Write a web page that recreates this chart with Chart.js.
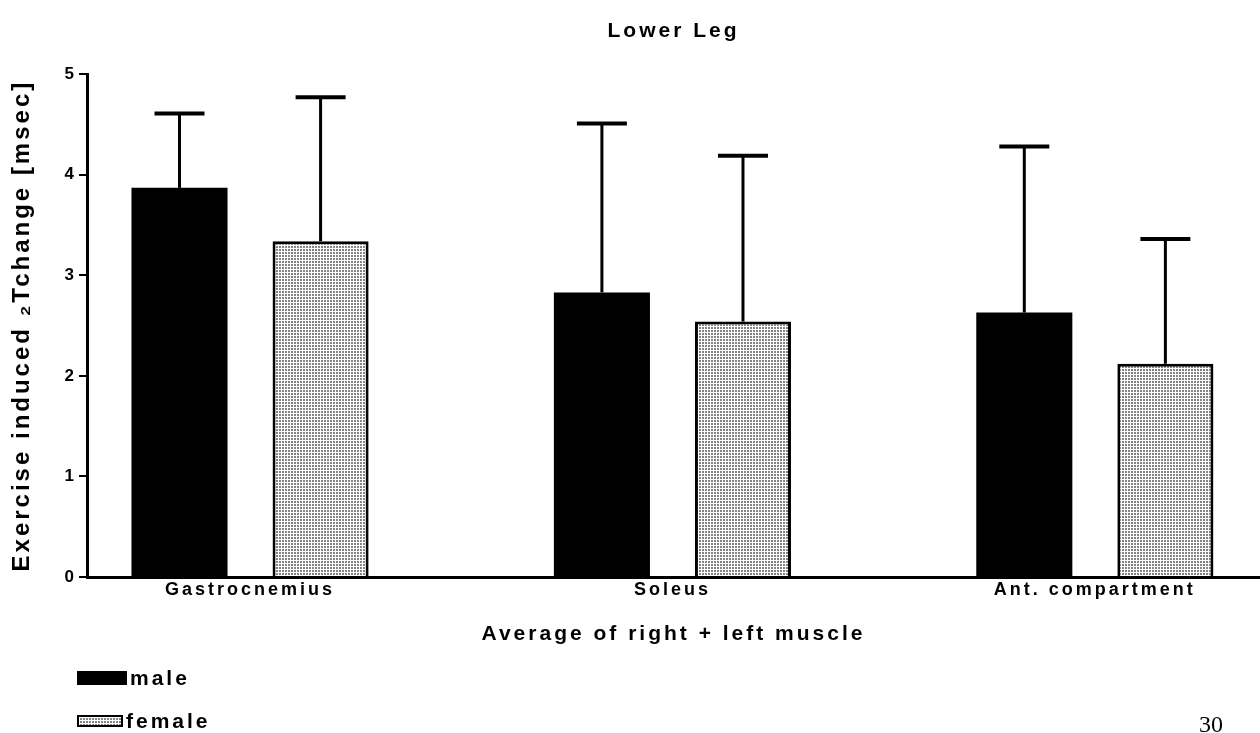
<!DOCTYPE html>
<html>
<head>
<meta charset="utf-8">
<title>Lower Leg</title>
<script src="https://cdn.jsdelivr.net/npm/chart.js@4/dist/chart.umd.min.js"></script>
<style>
  html, body { margin: 0; padding: 0; background: #fff; }
  #wrap { position: relative; width: 1260px; height: 733px; overflow: hidden; }
  #chart { position: absolute; left: 0; top: 0; }
  #legend { position: absolute; left: 77px; top: 664px; font: bold 21px "Liberation Sans", Arial, sans-serif; letter-spacing: 3px; color: #000; }
  #legend .item { display: flex; align-items: center; height: 28px; margin-bottom: 15px; }
  #legend canvas { margin-right: 3px; }
  #page { position: absolute; left: 1199px; top: 712px; font: 24px "Liberation Serif", "Times New Roman", serif; line-height: 1; color: #000; }
</style>
</head>
<body>
<div id="wrap">
  <canvas id="chart" width="1260" height="733"></canvas>
  <div id="legend"></div>
  <div id="page">30</div>
</div>
<script>
// Muscle groups (average of right + left)
const categories = ['Gastrocnemius', 'Soleus', 'Ant. compartment'];
const seriesNames = ['male', 'female'];

// Mean exercise-induced T2 change [msec] and standard deviation
const maleMean = [3.87, 2.83, 2.63];
const maleSD = [0.74, 1.68, 1.65];
const femaleMean = [3.34, 2.54, 2.12];
const femaleSD = [1.43, 1.65, 1.24];

const yTicks = [0, 1, 2, 3, 4, 5];

const FONT = '"Liberation Sans", Arial, Helvetica, sans-serif';

// fine grey screen used for the female bars
function screenPattern(ctx) {
  const tile = document.createElement('canvas');
  tile.width = 3; tile.height = 3;
  const t = tile.getContext('2d');
  t.fillStyle = '#fff';
  t.fillRect(0, 0, 3, 3);
  t.fillStyle = '#848484';
  t.fillRect(0, 0, 2, 2);
  return ctx.createPattern(tile, 'repeat');
}

const canvas = document.getElementById('chart');
const ctx = canvas.getContext('2d');

const toPoints = arr => arr.map((v, i) => ({ x: i, y: v }));

// wide letter spacing for all chart text
const spacing = {
  id: 'spacing',
  beforeLayout(chart) { chart.ctx.letterSpacing = '3px'; },
  beforeDraw(chart) { chart.ctx.letterSpacing = '3px'; }
};

// upper error bars (mean + SD) with a flat cap
const errorBars = {
  id: 'errorBars',
  afterDatasetsDraw(chart) {
    const c = chart.ctx;
    const y = chart.scales.y;
    c.save();
    c.strokeStyle = '#000';
    chart.data.datasets.forEach((ds, di) => {
      const meta = chart.getDatasetMeta(di);
      meta.data.forEach((bar, i) => {
        const top = y.getPixelForValue(ds.data[i].y + ds.sd[i]);
        c.lineWidth = 3;
        c.beginPath();
        c.moveTo(bar.x, bar.y);
        c.lineTo(bar.x, top);
        c.stroke();
        c.lineWidth = 4;
        c.beginPath();
        c.moveTo(bar.x - 25, top);
        c.lineTo(bar.x + 25, top);
        c.stroke();
      });
    });
    c.restore();
  }
};

const chart = new Chart(ctx, {
  type: 'bar',
  data: {
    datasets: [
      {
        label: seriesNames[0],
        data: toPoints(maleMean),
        sd: maleSD,
        backgroundColor: '#000',
        borderWidth: 0
      },
      {
        label: seriesNames[1],
        data: toPoints(femaleMean),
        sd: femaleSD,
        backgroundColor: screenPattern(ctx),
        borderColor: '#000',
        borderWidth: 3
      }
    ]
  },
  options: {
    responsive: false,
    animation: false,
    devicePixelRatio: 1,
    categoryPercentage: 0.668,
    barPercentage: 0.681,
    layout: { padding: { left: 0, right: 0, top: 0, bottom: 76 } },
    plugins: {
      legend: { display: false },
      tooltip: { enabled: false },
      title: {
        display: true,
        text: 'Lower Leg',
        fullSize: false,
        color: '#000',
        font: { family: FONT, size: 21, weight: 'bold' },
        padding: { top: 19, bottom: 30 }
      }
    },
    scales: {
      x: {
        type: 'linear',
        offset: false,
        min: -0.386,
        max: 2.391,
        afterBuildTicks(scale) {
          scale.ticks = categories.map((_, i) => ({ value: i }));
        },
        afterFit(scale) { scale.height = 80; },
        grid: { display: false, drawTicks: false, offset: false },
        border: { display: true, color: '#000', width: 3 },
        ticks: {
          color: '#000',
          font: { family: FONT, size: 18, weight: 'bold' },
          padding: 2,
          maxRotation: 0,
          autoSkip: false,
          callback: value => categories[value]
        },
        title: {
          display: true,
          text: 'Average of right + left muscle',
          color: '#000',
          font: { family: FONT, size: 21, weight: 'bold' },
          padding: { top: 0, bottom: 10 }
        }
      },
      y: {
        min: 0,
        max: 5,
        afterBuildTicks(scale) {
          scale.ticks = yTicks.map(v => ({ value: v }));
        },
        afterFit(scale) { scale.width = 87; },
        grid: {
          display: true,
          drawOnChartArea: false,
          drawTicks: true,
          tickLength: 8,
          color: '#000',
          lineWidth: 2
        },
        border: { display: true, color: '#000', width: 3 },
        ticks: {
          color: '#000',
          font: { family: FONT, size: 17, weight: 'bold' },
          padding: 2
        },
        title: {
          display: true,
          text: 'Exercise induced \u2082Tchange [msec]',
          color: '#000',
          font: { family: FONT, size: 24, weight: 'bold' },
          padding: { top: 8, bottom: 0 }
        }
      }
    }
  },
  plugins: [spacing, errorBars]
});

// legend below the plot, one entry per line
const legendEl = document.getElementById('legend');
chart.data.datasets.forEach((ds, i) => {
  const item = document.createElement('div');
  item.className = 'item';
  const sw = document.createElement('canvas');
  const w = i === 0 ? 50 : 46, h = i === 0 ? 14 : 12;
  sw.width = w; sw.height = h;
  const s = sw.getContext('2d');
  s.fillStyle = i === 0 ? ds.backgroundColor : screenPattern(s);
  s.fillRect(0, 0, w, h);
  if (ds.borderWidth) {
    s.strokeStyle = ds.borderColor;
    s.lineWidth = 2;
    s.strokeRect(1, 1, w - 2, h - 2);
  }
  const label = document.createElement('span');
  label.textContent = ds.label;
  item.appendChild(sw);
  item.appendChild(label);
  legendEl.appendChild(item);
});
</script>
</body>
</html>
